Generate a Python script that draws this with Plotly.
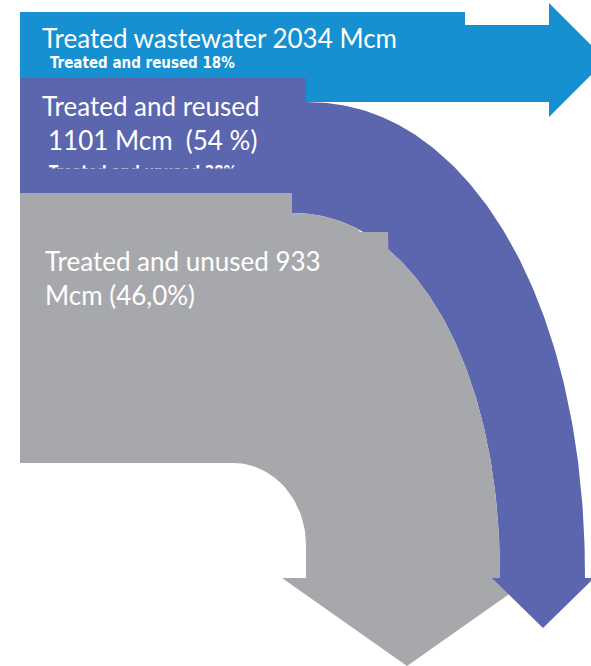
import numpy as np
import plotly.graph_objects as go

# ---- data ----
flow_labels = ["Treated wastewater", "Treated and reused", "Treated and unused"]
flow_values_mcm = [2034, 1101, 933]
flow_shares = ["", "54 %", "46,0%"]
subtitle_top = "Treated and reused 18%"
subtitle_hidden = "Treated and unused 28%"

# ---- style ----
BLUE = "#1690D0"
PURPLE = "#5B66AF"
GRAY = "#A7A8AC"
FONT = "Lato"
NARROW = "DejaVu Sans Condensed"

W, H = 591, 666


def superellipse(cx, cy, rx, ry, n, num=120):
    """Quarter superellipse from top (cx, cy-ry) to right (cx+rx, cy)."""
    th = np.linspace(np.pi / 2, 0, num)
    x = cx + rx * np.cos(th) ** (2 / n)
    y = cy - ry * np.sin(th) ** (2 / n)
    return list(x), list(y)


def quarter_round(cx, cy, rx, ry, num=40):
    """From right point (cx+rx, cy) up to top (cx, cy-ry)."""
    th = np.linspace(0, np.pi / 2, num)
    return list(cx + rx * np.cos(th)), list(cy - ry * np.sin(th))


fig = go.Figure()


def poly(xs, ys, color):
    fig.add_trace(go.Scatter(x=xs, y=ys, fill="toself", mode="lines",
                             line=dict(width=0, color=color), fillcolor=color,
                             hoverinfo="skip", showlegend=False))


# blue arrow (total)
bx = [20, 465, 465, 549, 549, 606, 549, 549, 20]
by = [12, 12, 25, 25, 3, 60, 117, 102, 102]
poly(bx, by, BLUE)

# purple band (reused)
ox, oy = superellipse(306, 578, 279, 476, 2.1)
ix, iy = superellipse(292, 578, 208, 365, 2.1)
px = [20, 306] + ox + ix[::-1] + [20]
py = [78, 78] + oy + iy[::-1] + [213]
poly(px, py, PURPLE)

# hidden subtitle (clipped text: only the tops of the letters show)
fig.add_trace(go.Scatter(x=[49], y=[173], mode="text", text=[f"<b>{subtitle_hidden}</b>"],
                         textposition="middle right",
                         textfont=dict(family=NARROW, size=15, color="white"),
                         hoverinfo="skip", showlegend=False))
poly([40, 300, 300, 40], [168.5, 168.5, 192, 192], PURPLE)

# gray band (unused)
gx, gy = [20, 292], [193, 193]
for x, y in zip(ix, iy):
    if x <= 360:
        gx.append(x); gy.append(y)
gx += [360, 388]
gy += [232, 232]
for x, y in zip(ix, iy):
    if x >= 388:
        gx.append(x); gy.append(y)
gx += [532, 407, 282, 306]
gy += [578, 666, 578, 578]
rx_, ry_ = quarter_round(233, 545, 73, 82)
gx += rx_ + [20]
gy += ry_ + [463]
poly(gx, gy, GRAY)

# purple arrow head on top
poly([492, 594, 543], [578, 578, 628], PURPLE)

# ---- texts ----
ann = []
ann.append(dict(x=40, y=37.5, text=f"{flow_labels[0]} {flow_values_mcm[0]} Mcm", font=dict(size=26)))
ann.append(dict(x=48, y=63, text=f"<b>{subtitle_top}</b>", font=dict(size=15, family=NARROW)))
ann.append(dict(x=40, y=106, text=flow_labels[1], font=dict(size=26)))
ann.append(dict(x=46, y=140, text=f"{flow_values_mcm[1]} Mcm  ({flow_shares[1]})", font=dict(size=26)))
ann.append(dict(x=43, y=260.5, text=f"{flow_labels[2]} {flow_values_mcm[2]}", font=dict(size=26)))
ann.append(dict(x=43, y=294.5, text=f"Mcm ({flow_shares[2]})", font=dict(size=26)))
for a in ann:
    f = dict(family=FONT, color="white")
    f.update(a["font"])
    fig.add_annotation(x=a["x"], y=a["y"], text=a["text"], showarrow=False,
                       xanchor="left", yanchor="middle", xref="x", yref="y", font=f)

fig.update_layout(width=W, height=H, margin=dict(l=0, r=0, t=0, b=0),
                  plot_bgcolor="white", paper_bgcolor="white",
                  xaxis=dict(range=[0, W], visible=False, fixedrange=True),
                  yaxis=dict(range=[H, 0], visible=False, fixedrange=True))
fig.write_html("out.html", config={"displayModeBar": False},
               post_script="document.body.style.margin='0';document.body.style.overflow='hidden';")
